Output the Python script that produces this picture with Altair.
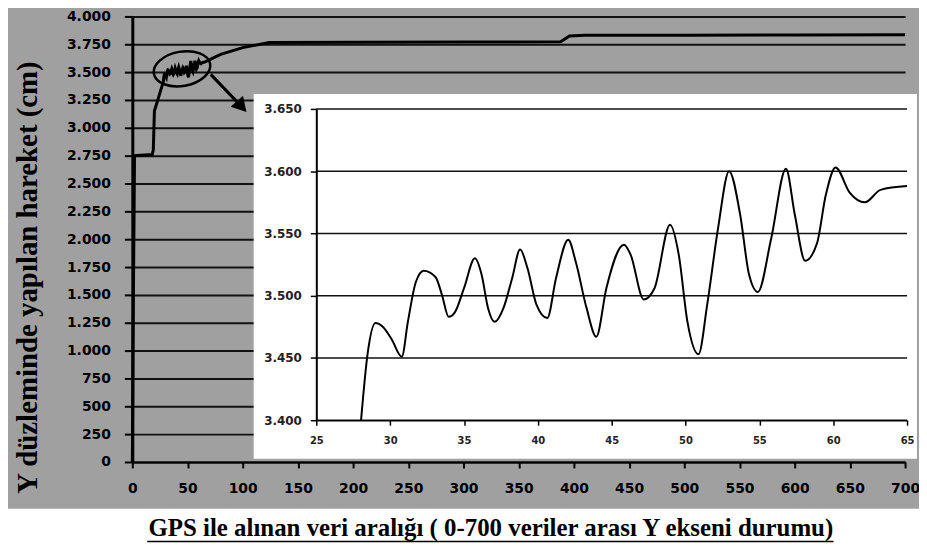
import altair as alt
import pandas as pd

# ---------------- data ----------------
# main series: GPS samples 0-700, Y movement
early_x = [0, 1, 2, 18, 19, 20, 24, 27]
early_y = [0, 1500, 2750, 2760, 2800, 3150, 3280, 3380]

# zoomed part (samples 28-65), also part of the main series
inset_x = [28.03, 28.47, 29.0, 29.5, 30.1, 30.79, 31.2, 31.74, 32.27, 33.07, 33.5, 33.96,
           34.4, 35.0, 35.74, 36.19, 36.63, 37.08, 37.67, 38.26, 38.8, 39.3, 39.9, 40.64,
           41.23, 42.06, 42.57, 43.3, 43.96, 44.64, 45.83, 46.28, 47.17, 47.9, 48.95, 49.54,
           50.13, 50.88, 51.47, 52.2, 52.95, 53.7, 54.3, 54.9, 55.8, 56.8, 57.4, 58.1, 58.9,
           59.5, 60.16, 61.1, 62.15, 63.2, 65.0]
inset_y = [3400, 3453, 3478, 3475, 3465, 3451, 3479, 3511, 3520, 3515, 3501, 3483,
           3487, 3506, 3530, 3517, 3490, 3479, 3490, 3514, 3537, 3522, 3493, 3482,
           3514, 3545, 3527, 3490, 3467, 3506, 3541, 3533, 3497, 3506, 3557, 3533,
           3479, 3453, 3493, 3554, 3600, 3565, 3517, 3503, 3546, 3602, 3565, 3528, 3542,
           3581, 3603, 3583, 3575, 3585, 3588]

late_x = [80, 100, 124, 200, 300, 388, 396, 410, 500, 600, 700]
late_y = [3660, 3720, 3765, 3768, 3770, 3772, 3825, 3830, 3832, 3833, 3835]

main_x_ticks = list(range(0, 701, 50))
main_y_ticks = list(range(0, 4001, 250))
inset_x_ticks = list(range(25, 66, 5))
inset_y_ticks = [3400, 3450, 3500, 3550, 3600, 3650]

# annotation: ellipse around the zoomed part and arrow to the inset
ellipse_at = {"x": [45], "y": [3530]}
arrow_from = {"x": [71], "y": [3480]}
arrow_to = {"x": [99], "y": [3190]}
# white inset panel extent (in inset units)
panel = {"x1": [20.76], "x2": [65.67], "y1": [3369], "y2": [3662]}

y_title = "Y düzleminde yapılan hareket (cm)"
x_title = "GPS ile alınan veri aralığı ( 0-700 veriler arası Y ekseni durumu)"

# ---------------- build ----------------
main_df = pd.DataFrame({"x": early_x + inset_x + late_x, "y": early_y + inset_y + late_y})
inset_df = pd.DataFrame({"x": inset_x, "y": inset_y})
grid_df = pd.DataFrame({"g": inset_y_ticks, "a": [inset_x_ticks[0]] * len(inset_y_ticks),
                        "b": [inset_x_ticks[-1]] * len(inset_y_ticks)})
one = pd.DataFrame({"a": [0]})
ell_df = pd.DataFrame(ellipse_at)
arr_df = pd.DataFrame({"x": arrow_from["x"], "y": arrow_from["y"],
                       "x2": arrow_to["x"], "y2": arrow_to["y"]})
head_df = pd.DataFrame(arrow_to)
panel_df = pd.DataFrame(panel)

W, H = 777, 448
dot_fmt = "replace(format(datum.value, ','), ',', '.')"


def xs():
    return alt.Scale(domain=[0, 700], nice=False, zero=False)


def ys():
    return alt.Scale(domain=[0, 4000], nice=False, zero=False)


def ixs():
    return alt.Scale(domain=[25, 65], range=[185, 779], nice=False, zero=False)


def iys():
    return alt.Scale(domain=[3400, 3650], range=[406, 93], nice=False, zero=False)


x_axis = alt.Axis(values=main_x_ticks, title=x_title, orient="bottom",
                  labelExpr="format(datum.value, 'd')",
                  labelFont="DejaVu Sans", labelFontWeight="bold", labelFontSize=14,
                  labelColor="black", labelPadding=14, tickSize=6, tickColor="black",
                  tickWidth=2, domainColor="black", domainWidth=2, grid=False,
                  titleFont="Liberation Serif", titleFontSize=25, titleFontWeight="bold",
                  titleColor="black", titleX=360, titleY=66, titleBaseline="middle",
                  titleAlign="center", zindex=1, labelFlush=False, labelOverlap=False)
y_axis = alt.Axis(values=main_y_ticks, title=y_title, orient="left", labelExpr=dot_fmt,
                  labelFont="DejaVu Sans", labelFontWeight="bold", labelFontSize=14,
                  labelColor="black", labelPadding=14, tickSize=8, tickColor="black",
                  tickWidth=2, domainColor="black", domainWidth=3, grid=True,
                  gridColor="#111111", gridWidth=2, gridOpacity=1,
                  titleFont="Liberation Serif", titleFontSize=29, titleFontWeight="bold",
                  titleColor="black", titleX=-105, titleY=262, titleBaseline="middle",
                  titleAlign="center", titleAngle=270, zindex=0, labelOverlap=False)

ix_axis = alt.Axis(values=inset_x_ticks, orient="bottom", offset=-42, title="",
                   labelFont="DejaVu Sans", labelFontWeight="bold", labelFontSize=10,
                   labelColor="#222222", labelPadding=10, tickSize=5, tickColor="black",
                   tickWidth=1.5, domainColor="black", domainWidth=1.5, grid=False,
                   zindex=1, labelFlush=False)
iy_axis = alt.Axis(values=inset_y_ticks, orient="left", offset=-185, title="",
                   labelExpr=dot_fmt, labelFont="DejaVu Sans", labelFontWeight="bold",
                   labelFontSize=12, labelColor="#222222", labelPadding=9, tickSize=6,
                   tickColor="black", tickWidth=1.5, domainColor="black", domainWidth=2,
                   grid=False, zindex=1)

main_line = alt.Chart(main_df).mark_line(color="black", strokeWidth=3).encode(
    x=alt.X("x:Q", scale=xs(), axis=x_axis),
    y=alt.Y("y:Q", scale=ys(), axis=y_axis),
)
bottom_white = alt.Chart(one).mark_rect(color="white").encode(
    x=alt.value(-140), x2=alt.value(820), y=alt.value(495), y2=alt.value(600))
underline = alt.Chart(one).mark_rule(color="black", strokeWidth=1.5).encode(
    x=alt.value(15), x2=alt.value(705), y=alt.value(528))

ellipse_path = "M -1 0 A 1 0.6 0 1 0 1 0 A 1 0.6 0 1 0 -1 0 Z"
ellipse = alt.Chart(ell_df).mark_point(shape=ellipse_path, size=3300, filled=False,
                                       stroke="black", strokeWidth=2.5, opacity=1,
                                       angle=350).encode(
    x=alt.X("x:Q", scale=xs(), axis=None), y=alt.Y("y:Q", scale=ys(), axis=None))
arrow = alt.Chart(arr_df).mark_rule(color="black", strokeWidth=3).encode(
    x=alt.X("x:Q", scale=xs(), axis=None), y=alt.Y("y:Q", scale=ys(), axis=None),
    x2="x2:Q", y2="y2:Q")
head = alt.Chart(head_df).mark_point(shape="triangle-right", size=280, filled=True,
                                     color="black", angle=48, opacity=1).encode(
    x=alt.X("x:Q", scale=xs(), axis=None), y=alt.Y("y:Q", scale=ys(), axis=None))

panel_rect = alt.Chart(panel_df).mark_rect(color="white").encode(
    x=alt.X("x1:Q", scale=ixs(), axis=ix_axis), x2="x2:Q",
    y=alt.Y("y1:Q", scale=iys(), axis=iy_axis), y2="y2:Q")
inset_grid = alt.Chart(grid_df).mark_rule(color="#111111", strokeWidth=1.5).encode(
    y=alt.Y("g:Q", scale=iys(), axis=None),
    x=alt.X("a:Q", scale=ixs(), axis=None), x2="b:Q")
inset_line = alt.Chart(inset_df).mark_line(color="black", strokeWidth=2,
                                           interpolate="monotone").encode(
    x=alt.X("x:Q", scale=ixs(), axis=None), y=alt.Y("y:Q", scale=iys(), axis=None))

chart = alt.layer(
    bottom_white, main_line, underline, ellipse, arrow, head,
    panel_rect, inset_grid, inset_line
).resolve_scale(
    x="independent", y="independent"
).properties(
    width=W, height=H, autosize="none",
    padding={"left": 125, "top": 7, "right": 14, "bottom": 80},
).configure(background="#a0a0a0").configure_view(strokeWidth=0)

chart.save("out.html", embed_options={"renderer": "svg", "actions": False})
